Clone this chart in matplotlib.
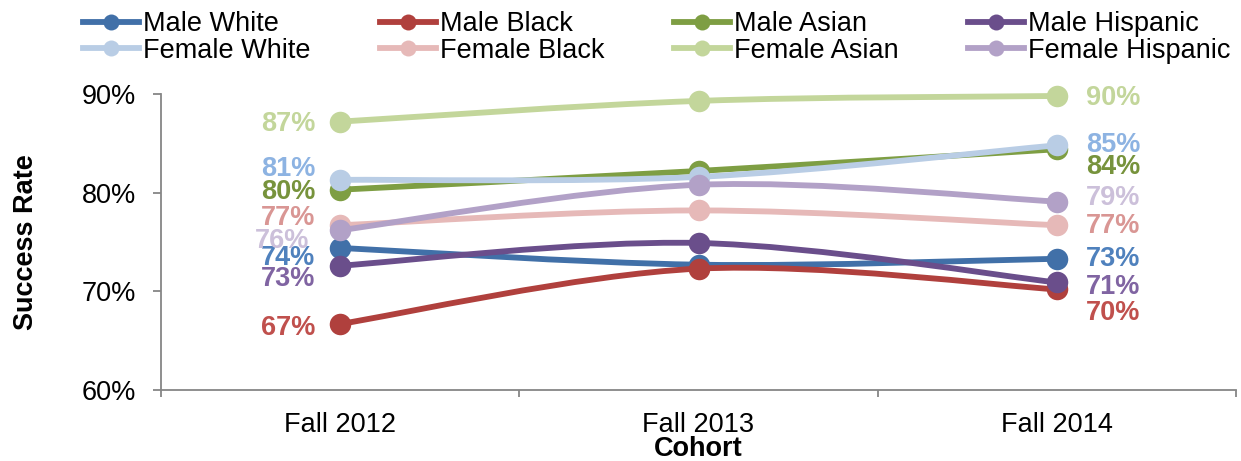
import matplotlib
matplotlib.use("Agg")
import matplotlib.pyplot as plt
from matplotlib.path import Path
from matplotlib.patches import PathPatch
from matplotlib.lines import Line2D
import numpy as np

plt.rcParams['font.family'] = ['Liberation Sans', 'DejaVu Sans']

cohorts = ["Fall 2012", "Fall 2013", "Fall 2014"]
series_names = ["Male White", "Male Black", "Male Asian", "Male Hispanic",
                "Female White", "Female Black", "Female Asian", "Female Hispanic"]

male_white = [74.4, 72.7, 73.3]
male_black = [66.7, 72.3, 70.2]
male_asian = [80.3, 82.2, 84.4]
male_hispanic = [72.6, 74.9, 70.9]
female_white = [81.3, 81.6, 84.8]
female_black = [76.7, 78.2, 76.7]
female_asian = [87.2, 89.3, 89.8]
female_hispanic = [76.2, 80.8, 79.1]

values = [male_white, male_black, male_asian, male_hispanic,
          female_white, female_black, female_asian, female_hispanic]

line_colors = ["#4170A8", "#B0403D", "#7E9E43", "#6A4E8B",
               "#B9CDE5", "#E6B9B8", "#C3D69B", "#B2A1C7"]
label_colors = ["#4F81BD", "#C0504D", "#77933C", "#8064A2",
                "#8DB3E2", "#D99694", "#C3D69B", "#CCC0DA"]

# label vertical offsets (points) at left (first) and right (last) end
left_dy = [-7.2, -2.9, -1.4, -9.4, 7.6, 5.0, -1.4, -8.0]
right_dy = [0.0, -17.0, -13.0, -3.6, 0.0, -0.7, -1.4, 2.9]
left_dx = [-18, -18, -18, -18, -18, -18, -18, -22]

FS = 19.5
W, H = 1241, 461
fig = plt.figure(figsize=(W / 100, H / 100), dpi=100)
ax = fig.add_axes([161 / W, 1 - 390 / H, (1236 - 161) / W, (390 - 94) / H])

x = np.arange(len(cohorts))


def smooth_path(xs, ys):
    pts = np.column_stack([xs, ys]).astype(float)
    n = len(pts)
    verts = [pts[0]]
    codes = [Path.MOVETO]
    for i in range(n - 1):
        p_prev = pts[i - 1] if i > 0 else pts[i]
        p0 = pts[i]
        p1 = pts[i + 1]
        p_next = pts[i + 2] if i + 2 < n else pts[i + 1]
        c1 = p0 + (p1 - p_prev) / 6.0
        c2 = p1 - (p_next - p0) / 6.0
        verts += [c1, c2, p1]
        codes += [Path.CURVE4] * 3
    return Path(verts, codes)


for k, (name, vals) in enumerate(zip(series_names, values)):
    z = 3 + k * 0.1
    patch = PathPatch(smooth_path(x, vals), fill=False, edgecolor=line_colors[k],
                      lw=4.2, capstyle='round', joinstyle='round', zorder=z, clip_on=False)
    ax.add_patch(patch)
    ax.plot(x, vals, linestyle='none', marker='o', markersize=15.5,
            color=line_colors[k], markeredgewidth=0, zorder=z + 0.05, clip_on=False)
    ax.annotate(f"{vals[0]:.0f}%", xy=(x[0], vals[0]), xytext=(left_dx[k], left_dy[k]),
                textcoords='offset points', ha='right', va='center', fontsize=FS,
                fontweight='bold', color=label_colors[k])
    ax.annotate(f"{vals[-1]:.0f}%", xy=(x[-1], vals[-1]), xytext=(21, right_dy[k]),
                textcoords='offset points', ha='left', va='center', fontsize=FS,
                fontweight='bold', color=label_colors[k])

ax.set_xlim(-0.5, len(cohorts) - 0.5)
ax.set_ylim(60, 90)
ax.set_yticks([60, 70, 80, 90])
ax.set_yticklabels([f"{v}%" for v in [60, 70, 80, 90]])
ax.set_xticks(np.arange(-0.5, len(cohorts), 1.0))
ax.set_xticklabels([])
ax.set_xticks(x, minor=True)
ax.set_xticklabels(cohorts, minor=True)
ax.tick_params(axis='x', which='minor', length=0, pad=16, labelsize=FS)
ax.tick_params(axis='x', which='major', length=5, color='#868686', width=1.3)
ax.tick_params(axis='y', length=6, color='#868686', width=1.3, pad=12, labelsize=FS)
for s in ['top', 'right']:
    ax.spines[s].set_visible(False)
for s in ['left', 'bottom']:
    ax.spines[s].set_color('#868686')
    ax.spines[s].set_linewidth(1.3)

ax.set_xlabel("Cohort", fontsize=FS, fontweight='bold')
ax.set_ylabel("Success Rate", fontsize=FS, fontweight='bold')
ax.xaxis.label.set_va('center')
ax.yaxis.label.set_va('center')
ax.xaxis.set_label_coords(0.5, (390 - 449) / (390 - 94))
ax.yaxis.set_label_coords((26 - 161) / (1236 - 161), 0.5)

handles = [Line2D([0], [0], color=line_colors[k], lw=4.2, marker='o', markersize=11.5,
                  markeredgewidth=0) for k in range(len(series_names))]
order = [0, 4, 1, 5, 2, 6, 3, 7]
leg = fig.legend([handles[i] for i in order], [series_names[i] for i in order],
                 ncol=4, loc='upper left', bbox_to_anchor=(83 / W, 1 - 11 / H),
                 frameon=False, fontsize=FS, handlelength=2.07, handletextpad=0.15,
                 columnspacing=2.56, labelspacing=0.02, borderaxespad=0, borderpad=0)

fig.savefig("out.png", dpi=100)
